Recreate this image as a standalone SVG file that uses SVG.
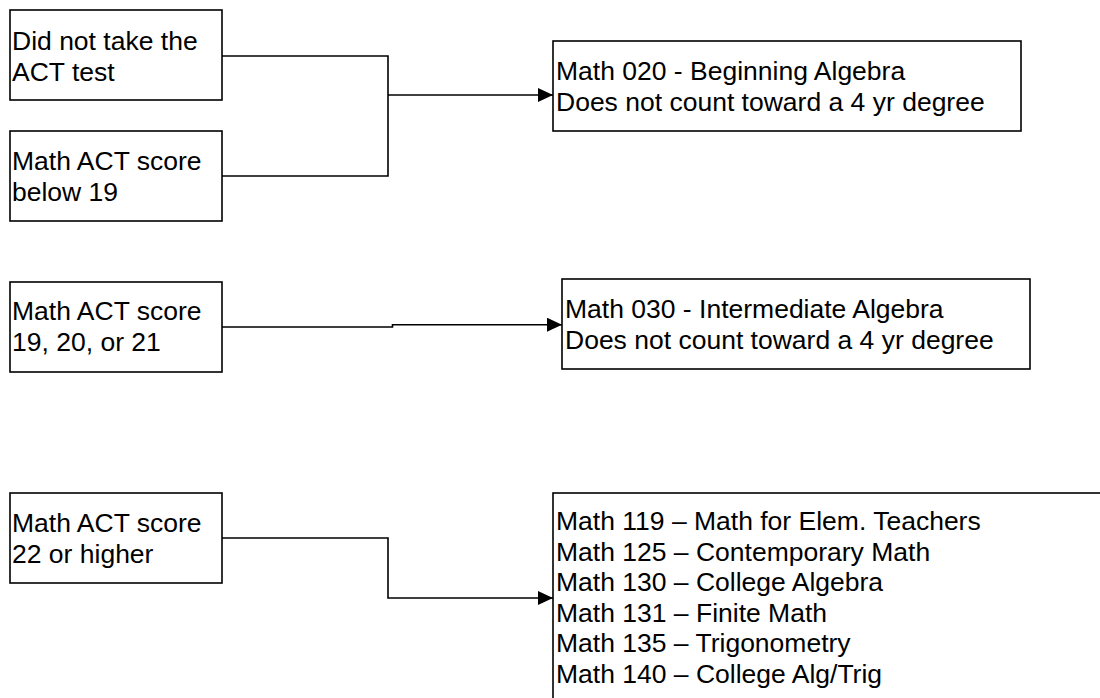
<svg xmlns="http://www.w3.org/2000/svg" width="1100" height="698" viewBox="0 0 1100 698">
<style>
.box{fill:#fff;stroke:#000;stroke-width:1.6}
.t{font-family:"Liberation Sans",Arial,sans-serif;font-size:26.5px;fill:#000}
.c{fill:none;stroke:#000;stroke-width:1.6}
</style>
<defs>
<marker id="arr" markerUnits="userSpaceOnUse" markerWidth="16" markerHeight="15" refX="15" refY="7" orient="auto">
<path d="M0,0 L15,7 L0,14 z" fill="#000"/>
</marker>
</defs>
<rect width="1100" height="698" fill="#fff"/>
<g id="connectors">
<path class="c" d="M222,56 H388 V176 H222"/>
<path class="c" d="M388,95 H553" marker-end="url(#arr)"/>
<path class="c" d="M222,327 H392.5 V324.7 H562" marker-end="url(#arr)"/>
<path class="c" d="M222,538 H388 V598 H553" marker-end="url(#arr)"/>
</g>
<g id="n1">
<rect class="box" x="10" y="10" width="212" height="90"/>
<text class="t" x="12" y="50">Did not take the</text>
<text class="t" x="12" y="80.6">ACT test</text>
</g>
<g id="n2">
<rect class="box" x="10" y="131" width="212" height="90"/>
<text class="t" x="12" y="170">Math ACT score</text>
<text class="t" x="12" y="200.6">below 19</text>
</g>
<g id="n3">
<rect class="box" x="553" y="41" width="468" height="90"/>
<text class="t" x="556" y="80">Math 020 - Beginning Algebra</text>
<text class="t" x="556" y="110.6">Does not count toward a 4 yr degree</text>
</g>
<g id="n4">
<rect class="box" x="10" y="282" width="212" height="90"/>
<text class="t" x="12" y="320">Math ACT score</text>
<text class="t" x="12" y="350.6">19, 20, or 21</text>
</g>
<g id="n5">
<rect class="box" x="562" y="279" width="468" height="90"/>
<text class="t" x="565" y="318">Math 030 - Intermediate Algebra</text>
<text class="t" x="565" y="348.6">Does not count toward a 4 yr degree</text>
</g>
<g id="n6">
<rect class="box" x="10" y="493" width="212" height="90"/>
<text class="t" x="12" y="532">Math ACT score</text>
<text class="t" x="12" y="562.6">22 or higher</text>
</g>
<g id="n7">
<rect class="box" x="553" y="493" width="600" height="260"/>
<text class="t" x="556" y="530">Math 119 – Math for Elem. Teachers</text>
<text class="t" x="556" y="560.6">Math 125 – Contemporary Math</text>
<text class="t" x="556" y="591.2">Math 130 – College Algebra</text>
<text class="t" x="556" y="621.8">Math 131 – Finite Math</text>
<text class="t" x="556" y="652.4">Math 135 – Trigonometry</text>
<text class="t" x="556" y="683">Math 140 – College Alg/Trig</text>
</g>
</svg>
